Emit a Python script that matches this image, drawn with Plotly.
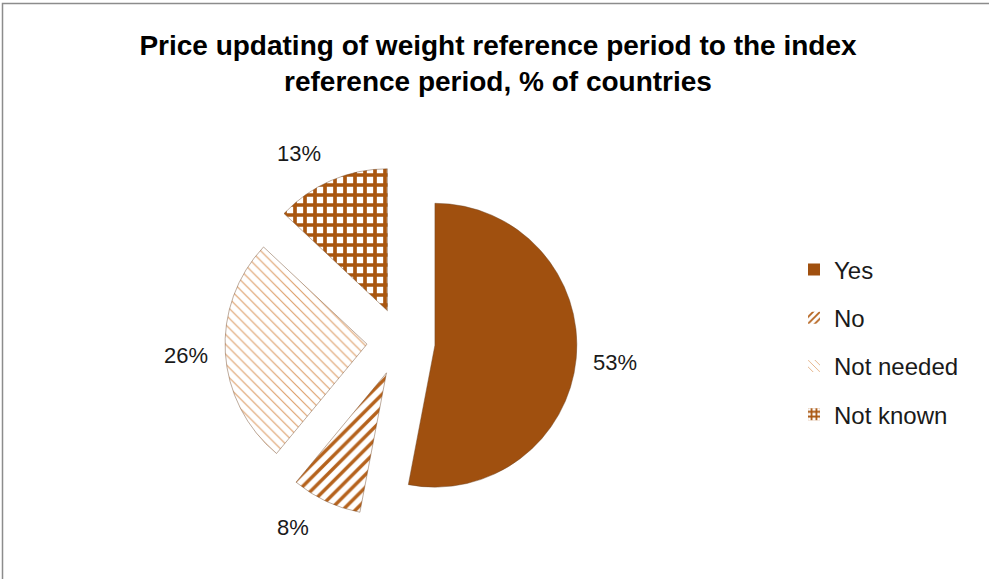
import math
import plotly.graph_objects as go

# share of countries by answer
labels = ["Yes", "No", "Not needed", "Not known"]
values = [53, 8, 26, 13]
label_text = ["53%", "8%", "26%", "13%"]

title = "Price updating of weight reference period to the index<br>reference period, % of countries"

# slice styles
fill = ["#A0500F", "#B5621C", "#DE9E68", "#A9560F"]
shapes = ["", "/", "\\", "+"]
bgs = ["#A0500F", "white", "white", "white"]
psize = [8, 9, 7, 10]
solid = [0.5, 0.38, 0.16, 0.6]

W, H = 989, 579

# pie placement (pixels)
cx, cy = 401, 342
box = 352
pull = 0.24

dom_x = [(cx - box / 2) / W, (cx + box / 2) / W]
dom_y = [1 - (cy + box / 2) / H, 1 - (cy - box / 2) / H]

fig = go.Figure(go.Pie(
    labels=labels,
    values=values,
    sort=False,
    direction="clockwise",
    rotation=0,
    pull=[pull] * len(values),
    textinfo="none",
    hoverinfo="label+percent",
    showlegend=False,
    domain=dict(x=dom_x, y=dom_y),
    marker=dict(
        colors=fill,
        line=dict(color="rgba(110,70,40,0.45)", width=1),
        pattern=dict(shape=shapes, fgcolor=fill, bgcolor=bgs,
                     fillmode="replace", size=psize, solidity=solid),
    ),
))

# legend entries (one group each so the spacing can be opened up)
for i, lab in enumerate(labels):
    fig.add_trace(go.Bar(
        x=[None], y=[None], name=lab, legendgroup=lab, hoverinfo="skip",
        marker=dict(color=fill[i], line=dict(width=0),
                    pattern=dict(shape=shapes[i], fgcolor=fill[i], bgcolor=bgs[i],
                                 fillmode="replace", size=6, solidity=solid[i])),
    ))

# percentage labels placed outside each exploded slice
# (labels near top/bottom get pushed sideways a little, like Excel's best fit)
total = sum(values)
D = 215
cum = 0
for v, t in zip(values, label_text):
    mid = math.radians((cum + v / 2) / total * 360)
    cum += v
    s, c = math.sin(mid), math.cos(mid)
    px = cx + D * s + math.copysign(20, s) * c * c
    py = cy - (D - 12 * c * c) * c
    fig.add_annotation(
        x=px / W, y=1 - py / H, xref="paper", yref="paper",
        xanchor="center", yanchor="middle",
        text=t, showarrow=False,
        font=dict(family="Liberation Sans, Arial", size=22, color="#1a1a1a"),
    )

# chart area border (only top and left visible in the crop)
fig.add_shape(type="rect", xref="paper", yref="paper",
              x0=2.5 / W, x1=1.02, y0=-0.02, y1=1 - 3.5 / H,
              line=dict(color="#8c8c8c", width=1.5))

fig.update_layout(
    width=W, height=H,
    margin=dict(l=0, r=0, t=0, b=0),
    paper_bgcolor="white",
    plot_bgcolor="white",
    xaxis=dict(visible=False),
    yaxis=dict(visible=False),
    title=dict(
        text=title, x=498 / W, xanchor="center", y=1 - 55 / H, yanchor="top",
        font=dict(family="Liberation Sans, Arial", size=28, color="black", weight="bold"),
    ),
    legend=dict(
        x=794 / W, xanchor="left", y=1 - 342 / H, yanchor="middle",
        font=dict(family="Liberation Sans, Arial", size=24, color="#1a1a1a"),
        bgcolor="rgba(0,0,0,0)",
        tracegroupgap=14,
    ),
)

fig.write_html("out.html", config={"displayModeBar": False},
               post_script="document.body.style.margin='0';")
